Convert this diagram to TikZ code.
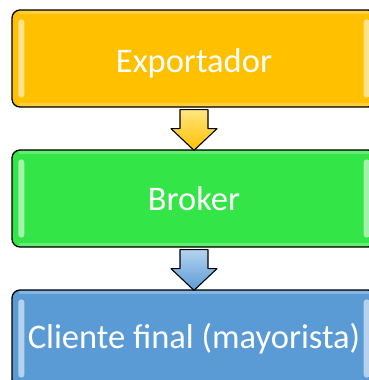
\documentclass[tikz,border=0pt]{standalone}
\usepackage{fontspec}
\setmainfont{Carlito}
\usetikzlibrary{calc}
\definecolor{orng}{HTML}{FFC000}
\definecolor{grn}{HTML}{33E547}
\definecolor{blu}{HTML}{5B9BD5}
\definecolor{orngL}{HTML}{FFE680}
\definecolor{bluL}{HTML}{B4D3F0}
\tikzset{
  x=1pt, y=1pt,
  stagebox/.style={draw=black, line width=1.3pt, rounded corners=8pt,
    minimum width=364pt, minimum height=97pt, inner sep=0pt,
    text=white, font=\fontsize{34.5}{40}\selectfont},
  gloss/.style={fill=white, opacity=0.55, rounded corners=3pt},
  downarrow/.style={draw=black, line width=1.1pt, line join=round},
}
\newcommand{\glossy}[1]{%
  \fill[gloss] ($(#1.north west)+(7,-10)$) rectangle ($(#1.south west)+(13,10)$);
  \fill[gloss] ($(#1.north east)+(-13,-10)$) rectangle ($(#1.south east)+(-7,10)$);
  \fill[white, opacity=0.25] ($(#1.north west)+(8,-2)$) rectangle ($(#1.north east)+(-8,-5)$);
  \fill[white, opacity=0.25] ($(#1.south west)+(8,2)$) rectangle ($(#1.south east)+(-8,5)$);
}
\newcommand{\blockarrow}[4]{% from node, to node, top color, bottom color
  \path[downarrow, top color=#3, bottom color=#4]
    ($(#1.south)+(-14,-2)$) -- ($(#1.south)+(14,-2)$) -- ($(#1.south)+(14,-21)$)
    -- ($(#1.south)+(23,-21)$) -- ($(#2.north)+(0,-1)$) -- ($(#1.south)+(-23,-21)$)
    -- ($(#1.south)+(-14,-21)$) -- cycle;
}
\begin{document}
\begin{tikzpicture}
\useasboundingbox (0,0) rectangle (369,-380);
\node[stagebox, fill=orng, text depth=0pt] (exp) at (194,-58.5) {\raisebox{-4pt}{Exportador}};
\node[stagebox, fill=grn] (bro) at (194,-198.5) {\raisebox{-4pt}{Broker}};
\node[stagebox, fill=blu] (cli) at (194,-338.5) {\raisebox{-4pt}{Cliente final (mayorista)}};
\glossy{exp}
\glossy{bro}
\glossy{cli}
\blockarrow{exp}{bro}{orngL}{orng}
\blockarrow{bro}{cli}{bluL}{blu}
\end{tikzpicture}
\end{document}
